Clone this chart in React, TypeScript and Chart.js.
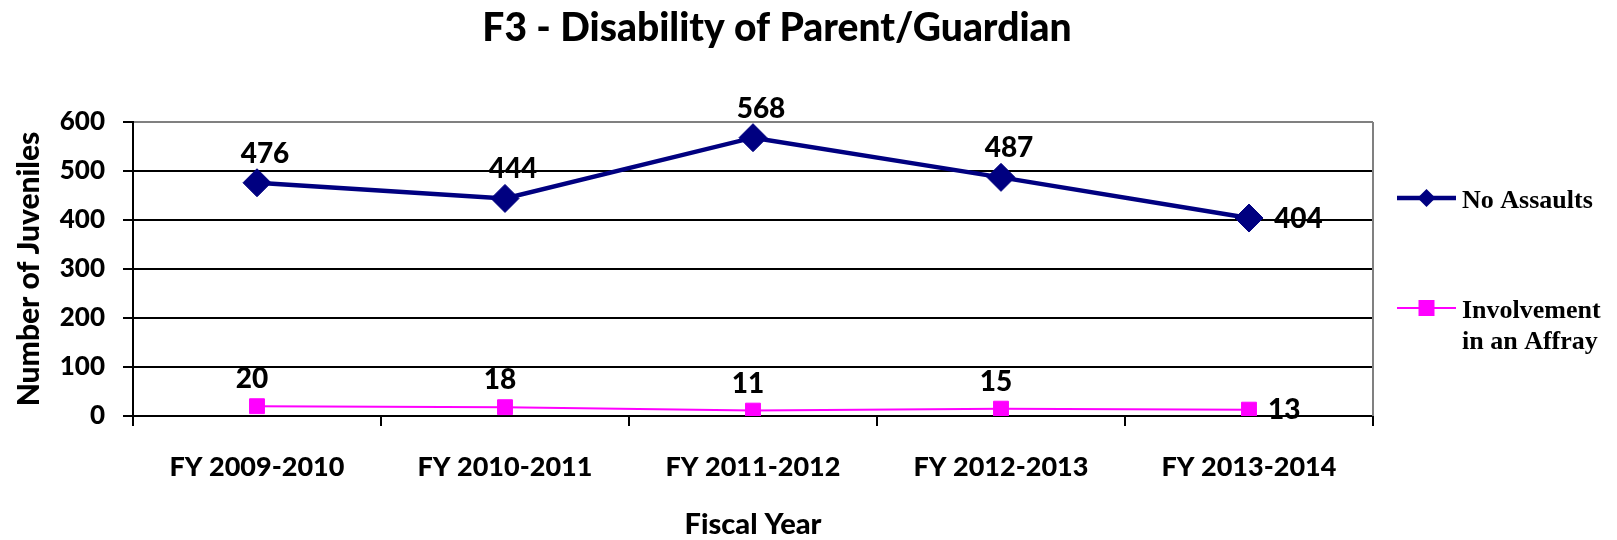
import React, { useEffect, useRef } from "react";
import { Chart, registerables } from "chart.js";

Chart.register(...registerables);

const chartTitle = "F3 - Disability of Parent/Guardian";
const xTitle = "Fiscal Year";
const yTitle = "Number of Juveniles";
const categories = ["FY 2009-2010", "FY 2010-2011", "FY 2011-2012", "FY 2012-2013", "FY 2013-2014"];
const noAssaults = [476, 444, 568, 487, 404];
const affray = [20, 18, 11, 15, 13];
const yTickValues = [0, 100, 200, 300, 400, 500, 600];
const legendLabels: string[][] = [["No Assaults"], ["Involvement", "in an Affray"]];

const NAVY = "#000080";
const MAGENTA = "#FF00FF";
const SANS = "Lato, 'Open Sans', sans-serif";
const SERIF = "'Liberation Serif', 'DejaVu Serif', serif";
const WEIGHT = "900";

const titlePlugin = {
  id: "customTitle",
  afterDraw(chart: any) {
    const ctx = chart.ctx;
    ctx.save();
    ctx.font = `${WEIGHT} 39px ${SANS}`;
    ctx.fillStyle = "#000";
    ctx.textAlign = "center";
    ctx.textBaseline = "middle";
    ctx.fillText(chartTitle, 777, 28);
    ctx.restore();
  },
};

const borderPlugin = {
  id: "rightBorder",
  beforeDatasetsDraw(chart: any) {
    const { ctx, chartArea } = chart;
    ctx.save();
    ctx.strokeStyle = "#808080";
    ctx.lineWidth = 2;
    ctx.beginPath();
    ctx.moveTo(chartArea.right, chartArea.top);
    ctx.lineTo(chartArea.right, chartArea.bottom);
    ctx.stroke();
    ctx.restore();
  },
};

const dataLabelPlugin = {
  id: "dataLabels",
  afterDatasetsDraw(chart: any) {
    const ctx = chart.ctx;
    ctx.save();
    ctx.font = `${WEIGHT} 28px ${SANS}`;
    ctx.fillStyle = "#000";
    chart.data.datasets.forEach((ds: any, di: number) => {
      const meta = chart.getDatasetMeta(di);
      const n = meta.data.length;
      meta.data.forEach((pt: any, j: number) => {
        const text = String(ds.data[j]);
        if (j === n - 1) {
          ctx.textAlign = "left";
          ctx.textBaseline = "middle";
          ctx.fillText(text, pt.x + (di === 0 ? 25 : 19), pt.y + (di === 0 ? 1 : 0));
        } else {
          ctx.textAlign = "center";
          ctx.textBaseline = "middle";
          const dx = di === 0 ? 8 : -5;
          const dy = di === 0 ? 29 : 27;
          ctx.fillText(text, pt.x + dx, pt.y - dy);
        }
      });
    });
    ctx.restore();
  },
};

const legendPlugin = {
  id: "customLegend",
  afterDraw(chart: any) {
    const { ctx, chartArea } = chart;
    const x0 = chartArea.right + 24;
    const x1 = chartArea.right + 83;
    const xm = (x0 + x1) / 2;
    const tx = chartArea.right + 89;
    const rows = [chartArea.top + 76, chartArea.top + 186];
    ctx.save();
    chart.data.datasets.forEach((ds: any, i: number) => {
      const y = rows[i];
      ctx.strokeStyle = ds.borderColor;
      ctx.lineWidth = ds.borderWidth;
      ctx.beginPath();
      ctx.moveTo(x0, y);
      ctx.lineTo(x1, y);
      ctx.stroke();
      ctx.fillStyle = ds.pointBackgroundColor;
      ctx.beginPath();
      if (ds.pointStyle === "rectRot") {
        const r = 9;
        ctx.moveTo(xm, y - r);
        ctx.lineTo(xm + r, y);
        ctx.lineTo(xm, y + r);
        ctx.lineTo(xm - r, y);
        ctx.closePath();
      } else {
        const h = 8;
        ctx.rect(xm - h, y - h, 2 * h, 2 * h);
      }
      ctx.fill();
      ctx.fillStyle = "#000";
      ctx.font = `bold 26px ${SERIF}`;
      ctx.textAlign = "left";
      ctx.textBaseline = "alphabetic";
      legendLabels[i].forEach((line, k) => {
        ctx.fillText(line, tx, y + 10 + k * 31);
      });
    });
    ctx.restore();
  },
};

export default function App() {
  const canvasRef = useRef<HTMLCanvasElement | null>(null);

  useEffect(() => {
    document.body.style.margin = "0";
    const canvas = canvasRef.current;
    if (!canvas) return;
    const tickFont = { family: SANS, weight: WEIGHT as any, size: 26 };
    const chart = new Chart(canvas, {
      type: "line",
      data: {
        labels: categories,
        datasets: [
          {
            label: legendLabels[0].join(" "),
            data: noAssaults,
            borderColor: NAVY,
            backgroundColor: NAVY,
            borderWidth: 4.5,
            pointStyle: "rectRot",
            pointRadius: 14,
            pointBorderWidth: 1,
            pointBackgroundColor: NAVY,
            pointBorderColor: NAVY,
            tension: 0,
            fill: false,
          },
          {
            label: legendLabels[1].join(" "),
            data: affray,
            borderColor: MAGENTA,
            backgroundColor: MAGENTA,
            borderWidth: 2,
            pointStyle: "rect",
            pointRadius: 10.5,
            pointBorderWidth: 1,
            pointBackgroundColor: MAGENTA,
            pointBorderColor: MAGENTA,
            tension: 0,
            fill: false,
          },
        ],
      },
      options: {
        responsive: false,
        animation: false,
        devicePixelRatio: 1,
        layout: { padding: { top: 122, right: 244, left: 0, bottom: 0 } },
        plugins: {
          legend: { display: false },
          title: { display: false },
          tooltip: { enabled: false },
        },
        scales: {
          x: {
            type: "category",
            offset: true,
            grid: {
              offset: true,
              drawOnChartArea: false,
              drawTicks: true,
              tickLength: 10,
              color: "#000",
              lineWidth: 2,
            },
            border: { color: "#000", width: 2 },
            ticks: {
              font: { family: SANS, weight: WEIGHT as any, size: 27 },
              color: "#000",
              padding: 25,
              maxRotation: 0,
              autoSkip: false,
            },
            title: {
              display: true,
              text: xTitle,
              font: { family: SANS, weight: WEIGHT as any, size: 29, lineHeight: 1 },
              color: "#000",
              padding: { top: 0, bottom: 1 },
            },
            afterFit: (s: any) => {
              s.height = 124;
            },
          },
          y: {
            min: 0,
            max: 600,
            afterBuildTicks: (s: any) => {
              s.ticks = yTickValues.map((v) => ({ value: v }));
            },
            ticks: { font: tickFont, color: "#000", padding: 18 },
            grid: {
              color: (c: any) => (c.tick && c.tick.value === 600 ? "#808080" : "#000"),
              tickColor: "#000",
              lineWidth: 2,
              tickLength: 10,
            },
            border: { color: "#000", width: 2 },
            title: {
              display: true,
              text: yTitle,
              font: { family: SANS, weight: WEIGHT as any, size: 30, lineHeight: 1.2 },
              color: "#000",
              padding: { top: 11, bottom: 0 },
            },
            afterFit: (s: any) => {
              s.width = 133;
            },
          },
        },
      },
      plugins: [titlePlugin, borderPlugin, dataLabelPlugin, legendPlugin],
    });
    return () => chart.destroy();
  }, []);

  return (
    <div style={{ width: 1617, height: 540, position: "relative", background: "#fff" }}>
      <canvas ref={canvasRef} width={1617} height={540} style={{ display: "block" }} />
    </div>
  );
}
